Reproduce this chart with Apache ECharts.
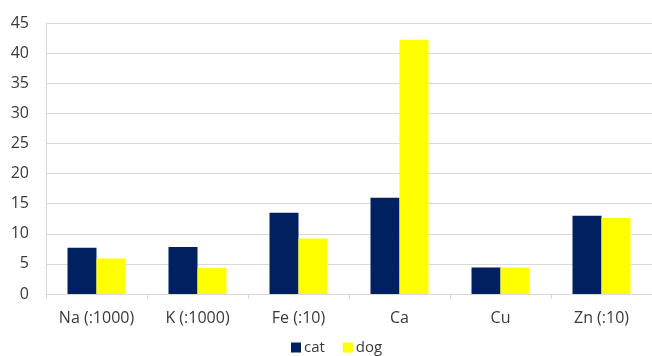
<!DOCTYPE html>
<html>
<head>
<meta charset="utf-8">
<style>
  html, body { margin: 0; padding: 0; background: #ffffff; }
  #chart { width: 652px; height: 356px; }
</style>
<script src="https://cdn.jsdelivr.net/npm/echarts@6/dist/echarts.min.js"></script>
</head>
<body>
<div id="chart"></div>
<script>
// Mineral content per element (scaled where noted in the label)
const categories = ['Na (:1000)', 'K (:1000)', 'Fe (:10)', 'Ca', 'Cu', 'Zn (:10)'];
const catValues = [7.7, 7.8, 13.5, 16.0, 4.4, 13.0];
const dogValues = [5.9, 4.3, 9.2, 42.2, 4.4, 12.6];
const yTicks = { min: 0, max: 45, interval: 5 };

const chart = echarts.init(document.getElementById('chart'), null, { renderer: 'canvas' });

const font = "'Open Sans', 'Liberation Sans', sans-serif";
const textColor = '#3a3a3a';

chart.setOption({
  animation: false,
  backgroundColor: '#ffffff',
  textStyle: { fontFamily: font },
  grid: { left: 46, right: 0, top: 23, bottom: 62, containLabel: false },
  legend: {
    top: 340,
    left: 291,
    padding: 0,
    itemWidth: 10,
    itemHeight: 10,
    itemGap: 18,
    icon: 'rect',
    textStyle: { fontSize: 15, color: textColor, fontFamily: font, padding: [0, 0, 0, -2] },
    data: ['cat', 'dog']
  },
  xAxis: {
    type: 'category',
    data: categories,
    axisLine: { show: true, lineStyle: { color: '#d9d9d9', width: 1 } },
    axisTick: { show: true, length: 5, lineStyle: { color: '#d9d9d9' } },
    axisLabel: { color: textColor, fontSize: 16, margin: 16, fontFamily: font }
  },
  yAxis: {
    type: 'value',
    min: yTicks.min,
    max: yTicks.max,
    interval: yTicks.interval,
    axisLine: { show: true, lineStyle: { color: '#d9d9d9', width: 1 } },
    axisTick: { show: false },
    splitLine: { show: true, lineStyle: { color: '#d9d9d9', width: 1 } },
    axisLabel: { color: textColor, fontSize: 16, margin: 17, fontFamily: font }
  },
  series: [
    {
      name: 'cat',
      type: 'bar',
      data: catValues,
      barWidth: 29,
      barGap: '0%',
      itemStyle: { color: '#002060' }
    },
    {
      name: 'dog',
      type: 'bar',
      data: dogValues,
      barWidth: 29,
      barGap: '0%',
      itemStyle: { color: '#ffff00' }
    }
  ]
});
</script>
</body>
</html>
